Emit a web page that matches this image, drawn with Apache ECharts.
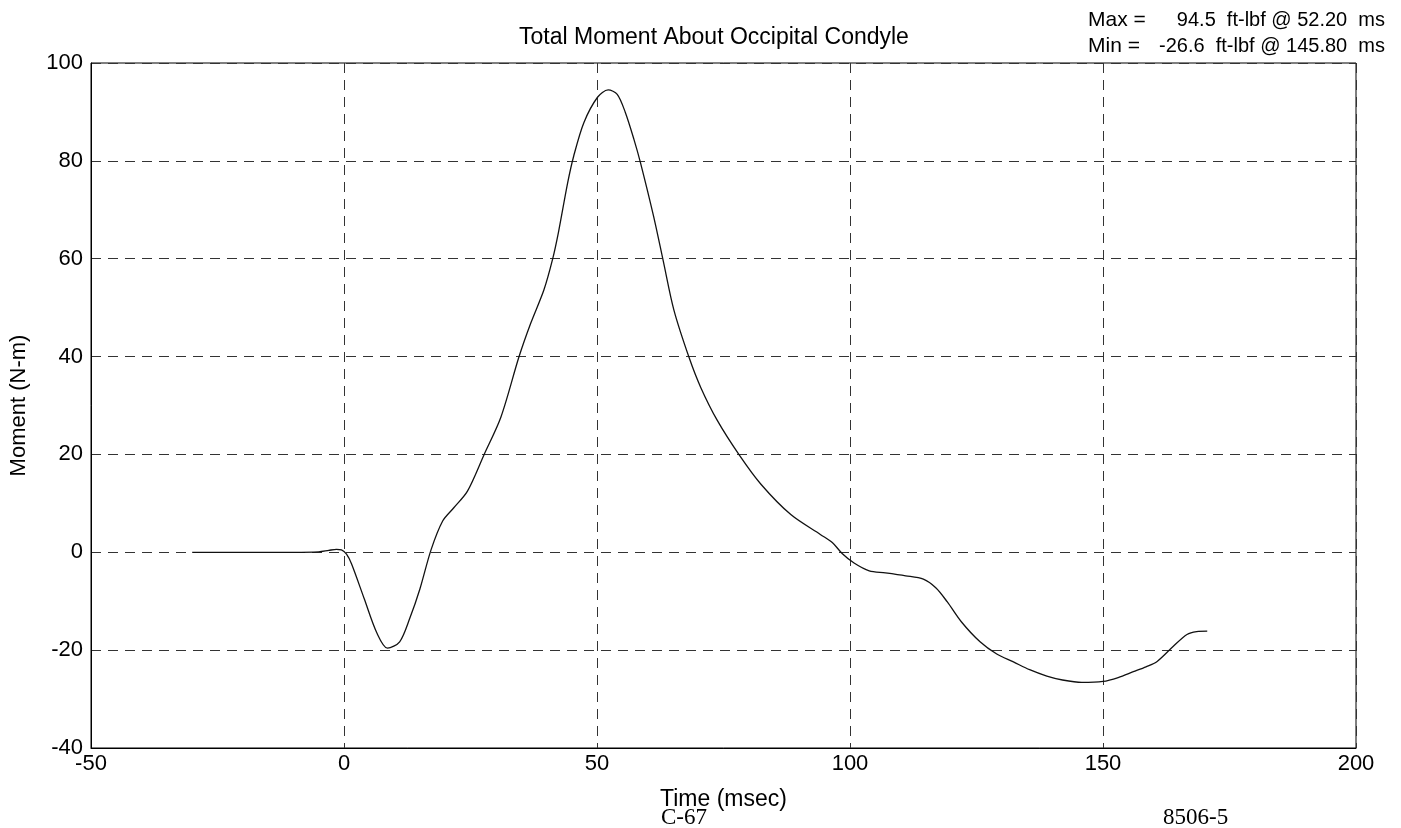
<!DOCTYPE html>
<html>
<head>
<meta charset="utf-8">
<script src="https://cdn.jsdelivr.net/npm/echarts@6/dist/echarts.min.js"></script>
<style>
    html, body { margin: 0; padding: 0; background: #fff; }
    #chart { width: 1401px; height: 828px; }
</style>
</head>
<body>
<div id="chart"></div>
<script>
// Moment about occipital condyle
const timeMs = [-30, -10, -5, -3, -1.5, -0.5, 0.5, 1.5, 4, 6.5, 8.6, 11, 13, 15, 17.2, 19.5, 21.7, 24.4,
    27.7, 31, 34.6, 36.9, 39.5, 41.2, 42.4, 44.2, 45.4, 47.4, 50.1, 52.2, 54, 55.6, 57.3, 58.6, 61.2,
    63.1, 65.2, 68.2, 70.5, 73.8, 78.1, 82.4, 88.3, 94.2, 96.5, 98.5, 100.8, 103.8, 107, 111, 114.5,
    117, 119.2, 122, 125.7, 129, 132.3, 135.5, 138.9, 142, 145.8, 150, 153, 156, 158.5, 160.7, 163.9,
    166.6, 168.5, 170.6];
const momentNm = [0, 0, 0.1, 0.4, 0.6, 0.5, -0.4, -2.4, -9.5, -16.5, -19.6, -18.3, -13.5, -7.5, 0.5,
    6.4, 9.1, 12.5, 20, 27.6, 40, 46.8, 53.6, 59.8, 65.5, 75.5, 81, 87.8, 93, 94.5, 93.6, 89.9, 84.4,
    79.6, 68.6, 59.5, 49.5, 39.8, 33.7, 26.9, 19.9, 13.9, 7.7, 3.6, 2, -0.3, -2.2, -3.8, -4.2, -4.8,
    -5.5, -7.3, -10.1, -14.2, -18.3, -20.8, -22.4, -24, -25.3, -26.1, -26.6, -26.4, -25.6, -24.4,
    -23.4, -22.3, -19.2, -16.8, -16.2, -16.1];
const xTicks = { min: -50, max: 200, step: 50 };
const yTicks = { min: -40, max: 100, step: 20 };

const labelFont = '"Liberation Sans", Arial, sans-serif';
const serifFont = '"Liberation Serif", "Times New Roman", serif';

const chart = echarts.init(document.getElementById('chart'));

const points = timeMs.map((t, i) => [t, momentNm[i]]);

const gridDash = {
    show: true,
    lineStyle: { color: '#333', width: 1, type: [10, 7] }
};

const option = {
    backgroundColor: '#fff',
    animation: false,
    grid: {
        left: 90,
        right: 45,
        top: 63,
        bottom: 80,
        show: true,
        borderColor: '#000',
        borderWidth: 1,
        backgroundColor: 'transparent'
    },
    title: {
        text: 'Total Moment About Occipital Condyle',
        left: 514,
        top: 21,
        textStyle: { fontFamily: labelFont, fontSize: 23, fontWeight: 'normal', color: '#000' }
    },
    xAxis: {
        type: 'value',
        min: xTicks.min,
        max: xTicks.max,
        interval: xTicks.step,
        name: 'Time (msec)',
        nameLocation: 'middle',
        nameGap: 40,
        nameTextStyle: { fontFamily: labelFont, fontSize: 23, color: '#000' },
        axisLine: { show: true, onZero: false, lineStyle: { color: '#000', width: 1 } },
        axisTick: { show: false },
        axisLabel: { fontFamily: labelFont, fontSize: 22, color: '#000', margin: 5 },
        splitLine: gridDash
    },
    yAxis: {
        type: 'value',
        min: yTicks.min,
        max: yTicks.max,
        interval: yTicks.step,
        name: 'Moment (N-m)',
        nameLocation: 'middle',
        nameGap: 61,
        nameTextStyle: { fontFamily: labelFont, fontSize: 22, color: '#000' },
        axisLine: { show: true, onZero: false, lineStyle: { color: '#000', width: 1 } },
        axisTick: { show: false },
        axisLabel: { fontFamily: labelFont, fontSize: 22, color: '#000', margin: 8 },
        splitLine: gridDash
    },
    series: [{
        type: 'line',
        data: points,
        smooth: 0.3,
        showSymbol: false,
        lineStyle: { color: '#111', width: 1.3 }
    }],
    graphic: [
        { type: 'text', left: 1088, top: 10,
          style: { text: 'Max =', font: '21px ' + labelFont, fill: '#000' } },
        { type: 'text', left: 1088, top: 36,
          style: { text: 'Min =', font: '21px ' + labelFont, fill: '#000' } },
        { type: 'text', right: 16, top: 10,
          style: { text: '94.5  ft-lbf @ 52.20  ms', font: '20px ' + labelFont, fill: '#000' } },
        { type: 'text', right: 16, top: 36,
          style: { text: '-26.6  ft-lbf @ 145.80  ms', font: '20px ' + labelFont, fill: '#000' } },
        { type: 'text', left: 661, top: 806,
          style: { text: 'C-67', font: '23px ' + serifFont, fill: '#000' } },
        { type: 'text', left: 1163, top: 806,
          style: { text: '8506-5', font: '23px ' + serifFont, fill: '#000' } }
    ]
};

chart.setOption(option);
window.addEventListener('resize', () => chart.resize());
</script>
</body>
</html>
